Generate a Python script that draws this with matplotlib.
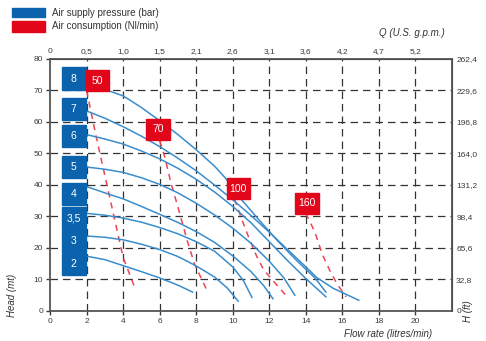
import matplotlib.pyplot as plt
from matplotlib.patches import Rectangle

plt.rcParams['font.family'] = ['Liberation Sans', 'DejaVu Sans']

# Curvas de pressão de ar (bar): vazão (l/min) x altura (m)
p_labels = ['2', '3', '3,5', '4', '5', '6', '7', '8']
p2_x = [2, 3, 4, 5, 6, 7, 7.8]
p2_y = [17.4, 16.3, 14.4, 12.5, 10.5, 8.2, 6.0]
p3_x = [2, 3, 4, 5, 6, 7, 8, 9, 9.7, 10.3]
p3_y = [23.8, 23.4, 22.6, 21.2, 19.5, 17.3, 14.3, 10.8, 7.3, 3.1]
p35_x = [2, 3, 4, 5, 6, 7, 8, 9, 10, 10.6, 11.05]
p35_y = [31.0, 30.4, 29.5, 28.2, 26.5, 24.5, 22.0, 19.0, 14.0, 9.5, 4.3]
p4_x = [2, 3, 4, 5, 6, 7, 8, 9, 10, 11, 11.7, 12.2]
p4_y = [39.5, 37.5, 35.6, 33.2, 30.7, 28.1, 25.2, 21.8, 17.5, 12.5, 8.0, 3.9]
p5_x = [2, 3, 4, 5, 6, 7, 8, 9, 10, 11, 12, 12.8, 13.4]
p5_y = [45.7, 45.0, 44.0, 42.3, 40.2, 37.5, 34.2, 30.5, 26.3, 21.5, 15.8, 10.5, 5.0]
p6_x = [2, 3, 4, 5, 6, 7, 8, 9, 10, 11, 12, 13, 14, 15.1]
p6_y = [56.0, 54.6, 53.0, 50.8, 48.3, 45.3, 41.8, 37.8, 33.2, 28.0, 22.0, 16.0, 10.3, 4.5]
p7_x = [2, 3, 4, 5, 6, 7, 8, 9, 10, 11, 12, 13, 14, 14.6, 15.5, 16.9]
p7_y = [63.5, 61.2, 58.5, 55.5, 52.2, 48.5, 44.5, 40.0, 35.3, 30.3, 25.0, 19.5, 14.0, 10.6, 7.2, 3.4]
p8_x = [2, 3, 4, 5, 6, 7, 8, 9, 9.6, 10.5, 11.5, 12.5, 13.5, 14.5, 15.1]
p8_y = [72.0, 70.3, 68.3, 64.6, 60.4, 56.0, 51.2, 46.0, 42.2, 35.2, 28.5, 22.0, 16.0, 10.5, 6.0]

# Consumo de ar (Nl/min)
c_labels = ['50', '70', '100', '160']
c50_x = [2.0, 2.5, 3.0, 3.5, 4.0, 4.6]
c50_y = [70.0, 56.0, 43.0, 30.0, 17.0, 8.0]
c70_x = [6.0, 6.3, 6.6, 7.0, 7.5, 7.9, 8.55]
c70_y = [54.0, 48.5, 41.0, 33.0, 22.5, 15.0, 7.0]
c100_x = [10.1, 10.5, 10.9, 11.3, 11.7, 12.9]
c100_y = [35.5, 29.0, 23.0, 17.5, 13.0, 5.0]
c160_x = [14.0, 14.5, 14.9, 15.3, 15.7, 16.2]
c160_y = [31.0, 25.0, 18.0, 13.0, 8.7, 4.5]

# Eixos secundários
x_ticks = [0, 2, 4, 6, 8, 10, 12, 14, 16, 18, 20]
gpm_labels = ['0', '0,5', '1,0', '1,5', '2,1', '2,6', '3,1', '3,6', '4,2', '4,7', '5,2']
y_ticks = [0, 10, 20, 30, 40, 50, 60, 70, 80]
ft_labels = ['0', '32,8', '65,6', '98,4', '131,2', '164,0', '196,8', '229,6', '262,4']

# posição das etiquetas (centro x, centro y)
p_box_y = [14.9, 22.1, 29.5, 37.1, 45.7, 55.5, 64.2, 73.8]
c_box_xy = [(2.58, 73.1), (5.91, 57.7), (10.3, 38.8), (14.07, 34.15)]

blue = '#0b63ad'
red = '#e2061a'
line_blue = '#3a8dcc'
dash_red = '#ee4452'
grey = '#333333'

fig = plt.figure(figsize=(4.86, 3.41), dpi=100)
ax = fig.add_axes([0.103, 0.088, 0.827, 0.739])
ax.set_xlim(0, 22)
ax.set_ylim(0, 80)

# grade tracejada
for gx in x_ticks[1:]:
    ax.axvline(gx, color=grey, lw=0.9, ls=(0, (6, 4)), zorder=1)
for gy in y_ticks[1:-1]:
    ax.axhline(gy, color=grey, lw=0.9, ls=(0, (6, 4)), zorder=1)

p_x = [p2_x, p3_x, p35_x, p4_x, p5_x, p6_x, p7_x, p8_x]
p_y = [p2_y, p3_y, p35_y, p4_y, p5_y, p6_y, p7_y, p8_y]
for xs, ys in zip(p_x, p_y):
    ax.plot(xs, ys, color=line_blue, lw=1.1, zorder=3, solid_joinstyle='round')

c_x = [c50_x, c70_x, c100_x, c160_x]
c_y = [c50_y, c70_y, c100_y, c160_y]
for xs, ys in zip(c_x, c_y):
    ax.plot(xs, ys, color=dash_red, lw=1.1, ls=(0, (4, 3.5)), zorder=2)

# etiquetas azuis
for lab, cy in zip(p_labels, p_box_y):
    ax.add_patch(Rectangle((0.64, cy - 3.5), 1.32, 7.0, color=blue, zorder=4))
    ax.text(1.3, cy, lab, color='white', fontsize=7.5, ha='center', va='center', zorder=5)

# etiquetas vermelhas
for lab, (cx, cy) in zip(c_labels, c_box_xy):
    ax.add_patch(Rectangle((cx - 0.64, cy - 3.4), 1.28, 6.8, color=red, zorder=4))
    ax.text(cx, cy, lab, color='white', fontsize=7.5, ha='center', va='center', zorder=5)

ax.set_xticks(x_ticks)
ax.set_yticks(y_ticks)
ax.tick_params(labelsize=6, colors='#3a3a3a', length=3, width=1, pad=2)
for s in ax.spines.values():
    s.set_color('#555555')
    s.set_linewidth(1.3)

top = ax.secondary_xaxis('top')
top.set_xticks(x_ticks)
top.set_xticklabels(gpm_labels)
top.tick_params(labelsize=6, colors='#3a3a3a', length=0, pad=3)

right = ax.secondary_yaxis('right')
right.set_yticks(y_ticks)
right.set_yticklabels(ft_labels)
right.tick_params(labelsize=6, colors='#3a3a3a', length=0, pad=3)

ax.set_xlabel('Flow rate (litres/min)', fontsize=7, style='italic', color='#333333')
ax.xaxis.set_label_coords(0.95, -0.07)
ax.xaxis.label.set_ha('right')
ax.set_ylabel('Head (mt)', fontsize=7, style='italic', color='#333333')
ax.yaxis.set_label_coords(-0.095, 0.06)
ax.yaxis.label.set_va('center')
fig.text(0.963, 0.055, 'H (ft)', fontsize=7, style='italic', color='#333333',
         rotation=90, ha='center', va='bottom')
fig.text(0.915, 0.903, 'Q (U.S. g.p.m.)', fontsize=7, style='italic', color='#333333',
         ha='right', va='center')

# legenda
fig.patches.append(Rectangle((0.025, 0.950), 0.068, 0.027, color=blue, transform=fig.transFigure))
fig.patches.append(Rectangle((0.025, 0.906), 0.068, 0.032, color=red, transform=fig.transFigure))
fig.text(0.107, 0.962, 'Air supply pressure (bar)', fontsize=7, color='#333333', va='center')
fig.text(0.107, 0.923, 'Air consumption (Nl/min)', fontsize=7, color='#333333', va='center')

fig.savefig('out.png', dpi=100)
